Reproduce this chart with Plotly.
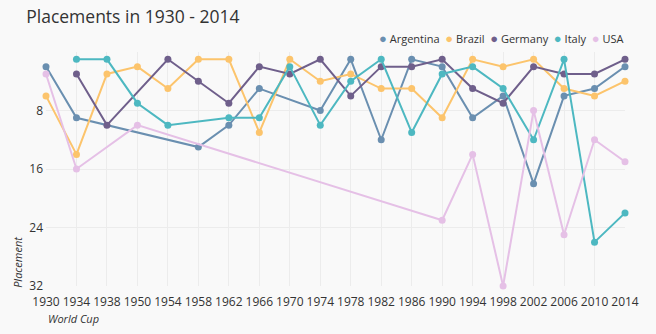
import plotly.graph_objects as go

years = ["1930", "1934", "1938", "1950", "1954", "1958", "1962", "1966", "1970", "1974",
         "1978", "1982", "1986", "1990", "1994", "1998", "2002", "2006", "2010", "2014"]

argentina = [2, 9, None, None, None, 13, 10, 5, None, 8, 1, 12, 1, 2, 9, 6, 18, 6, 5, 2]
brazil = [6, 14, 3, 2, 5, 1, 1, 11, 1, 4, 3, 5, 5, 9, 1, 2, 1, 5, 6, 4]
germany = [None, 3, 10, None, 1, 4, 7, 2, 3, 1, 6, 2, 2, 1, 5, 7, 2, 3, 3, 1]
italy = [None, 1, 1, 7, 10, None, 9, 9, 2, 10, 4, 1, 11, 3, 2, 5, 12, 1, 26, 22]
usa = [3, 16, None, 10, None, None, None, None, None, None, None, None, None, 23, 14, 32, 8, 25, 12, 15]

series = [
    ("Argentina", argentina, "#6a8fb0"),
    ("Brazil", brazil, "#fcc46c"),
    ("Germany", germany, "#6f5f8b"),
    ("Italy", italy, "#4db8c1"),
    ("USA", usa, "#e5c0e6"),
]

font_family = "Open Sans, sans-serif"
fig = go.Figure()
for name, vals, color in series:
    fig.add_trace(go.Scatter(
        x=years, y=vals, name=name, mode="lines+markers",
        connectgaps=True, cliponaxis=False, showlegend=False,
        line=dict(color=color, width=2), marker=dict(color=color, size=7),
    ))

# legend built as a single line of text, right-aligned above the plot
nbsp = "&nbsp;"
legend_text = (nbsp * 2).join(
    f"<span style='color:{c};font-size:13px'>●</span>{nbsp}{n}" for n, _, c in series
)

fig.update_layout(
    width=656, height=334,
    margin=dict(l=46, r=31, t=52, b=48),
    paper_bgcolor="#f9f9f9", plot_bgcolor="#f9f9f9",
    font=dict(family=font_family, size=12, color="#333333"),
    showlegend=False,
    title=dict(text="Placements in 1930 - 2014", x=0.04, xanchor="left", y=0.95, yanchor="middle",
               font=dict(size=17.5, color="#333333", family=font_family)),
    xaxis=dict(type="category", categoryorder="array", categoryarray=years,
               range=[0, 19], showgrid=True, gridcolor="#ececec", gridwidth=1,
               zeroline=False, showline=False, ticks="", tickfont=dict(size=12),
               ticklabelstandoff=7),
    yaxis=dict(range=[32, 0], tickvals=[8, 16, 24, 32], showgrid=True, gridcolor="#ececec",
               zeroline=False, showline=False, ticks="", tickfont=dict(size=12),
               ticklabelstandoff=2),
    annotations=[
        dict(text=legend_text, xref="paper", yref="paper", x=1.0, y=1.058,
             xanchor="right", yanchor="middle", showarrow=False,
             font=dict(size=11, color="#333333")),
        dict(text="<i>World Cup</i>", xref="paper", yref="paper", x=0.0, y=-0.1,
             xanchor="left", yanchor="top", showarrow=False, font=dict(size=11, color="#333333")),
        dict(text="<i>Placement</i>", xref="paper", yref="paper", x=-0.049, y=-0.016,
             xanchor="center", yanchor="bottom", textangle=-90, showarrow=False,
             font=dict(size=11, color="#333333")),
    ],
)

fig.write_html("out.html")
